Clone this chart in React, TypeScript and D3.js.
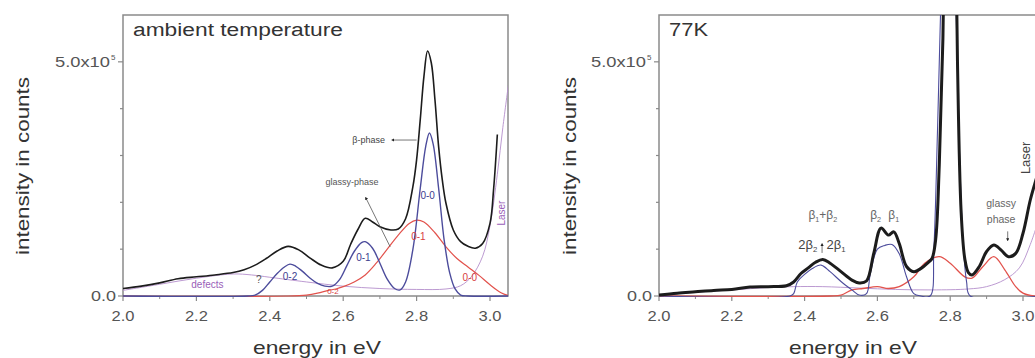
import React from "react";
import * as d3 from "d3";

type Pt = [number, number];

// energies in eV, intensity in units of 1e5 counts
const xTicks = [2.0, 2.2, 2.4, 2.6, 2.8, 3.0];
const xMinorTicks = [2.1, 2.3, 2.5, 2.7, 2.9];
const yTicks = [0, 1, 2, 3, 4, 5];
const yTickLabels: Record<number, string> = { 0: "0.0", 5: "5.0x10" };

// ---------- ambient temperature ----------
const ambientTotal: Pt[] = [
  [2.0, 0.16], [2.05, 0.21], [2.1, 0.28], [2.15, 0.37], [2.2, 0.41], [2.25, 0.45],
  [2.3, 0.5], [2.33, 0.56], [2.36, 0.66], [2.39, 0.8], [2.42, 0.96], [2.45, 1.06],
  [2.48, 0.98], [2.51, 0.81], [2.54, 0.66], [2.57, 0.6], [2.6, 0.74], [2.62, 1.1],
  [2.64, 1.42], [2.66, 1.66], [2.68, 1.58], [2.7, 1.48], [2.73, 1.41], [2.75, 1.43],
  [2.77, 1.65], [2.79, 2.34], [2.8, 2.91], [2.81, 3.77], [2.82, 4.69], [2.83, 5.23],
  [2.84, 4.98], [2.85, 4.19], [2.86, 3.19], [2.87, 2.48], [2.88, 1.98], [2.9, 1.41],
  [2.92, 1.16], [2.94, 1.06], [2.96, 1.02], [2.98, 1.12], [3.0, 1.55], [3.01, 2.3],
  [3.02, 3.45],
];
const ambientBeta: Pt[] = [
  [2.0, 0], [2.34, 0], [2.36, 0.02], [2.38, 0.12], [2.4, 0.3], [2.42, 0.48],
  [2.44, 0.62], [2.455, 0.68], [2.47, 0.64], [2.49, 0.52], [2.51, 0.38], [2.53, 0.27],
  [2.55, 0.21], [2.57, 0.21], [2.59, 0.35], [2.61, 0.65], [2.63, 0.95], [2.65, 1.14],
  [2.66, 1.16], [2.68, 1.02], [2.7, 0.7], [2.72, 0.36], [2.74, 0.16], [2.755, 0.13],
  [2.77, 0.3], [2.79, 1.0], [2.81, 2.3], [2.825, 3.2], [2.835, 3.48], [2.845, 3.25],
  [2.86, 2.3], [2.875, 1.2], [2.89, 0.5], [2.905, 0.15], [2.92, 0.02], [2.94, 0],
  [3.05, 0],
];
const ambientGlassy: Pt[] = [
  [2.0, 0], [2.45, 0], [2.5, 0.02], [2.53, 0.06], [2.56, 0.12], [2.58, 0.15],
  [2.6, 0.2], [2.63, 0.3], [2.66, 0.45], [2.69, 0.7], [2.72, 1.0], [2.75, 1.3],
  [2.78, 1.55], [2.8, 1.62], [2.82, 1.58], [2.85, 1.35], [2.88, 1.05], [2.91, 0.8],
  [2.94, 0.62], [2.97, 0.44], [3.0, 0.24], [3.03, 0.07], [3.05, 0.01],
];
const ambientDefects: Pt[] = [
  [2.0, 0.12], [2.1, 0.25], [2.2, 0.38], [2.3, 0.47], [2.35, 0.45], [2.4, 0.4],
  [2.5, 0.3], [2.6, 0.21], [2.7, 0.16], [2.8, 0.14], [2.88, 0.15], [2.92, 0.22],
  [2.95, 0.42], [2.98, 0.85], [3.0, 1.5], [3.02, 2.6], [3.035, 3.6], [3.05, 4.5],
];

// ---------- 77K ----------
const coldTotal: Pt[] = [
  [2.0, 0.02], [2.05, 0.06], [2.1, 0.09], [2.15, 0.12], [2.2, 0.14], [2.25, 0.19],
  [2.3, 0.2], [2.35, 0.22], [2.37, 0.3], [2.39, 0.48], [2.41, 0.6], [2.43, 0.72],
  [2.45, 0.78], [2.47, 0.7], [2.5, 0.52], [2.53, 0.34], [2.55, 0.28], [2.57, 0.32],
  [2.59, 0.91], [2.61, 1.45], [2.63, 1.3], [2.645, 1.37], [2.66, 1.12], [2.68, 0.63],
  [2.7, 0.52], [2.72, 0.59], [2.74, 0.72], [2.75, 0.8], [2.76, 1.2], [2.77, 2.8],
  [2.78, 5.5], [2.79, 11], [2.8, 14.5], [2.81, 11], [2.82, 5.0], [2.83, 1.8],
  [2.84, 0.8], [2.85, 0.5], [2.86, 0.45], [2.88, 0.63], [2.9, 0.95], [2.92, 1.09],
  [2.94, 0.98], [2.96, 0.84], [2.98, 0.91], [3.0, 1.34], [3.02, 2.05], [3.04, 2.6],
  [3.05, 2.9],
];
const coldBeta: Pt[] = [
  [2.0, 0], [2.36, 0], [2.37, 0.05], [2.38, 0.3], [2.4, 0.46], [2.42, 0.58],
  [2.445, 0.66], [2.47, 0.52], [2.5, 0.31], [2.53, 0.13], [2.55, 0.02], [2.57, 0.05],
  [2.58, 0.45], [2.6, 1.0], [2.62, 1.08], [2.64, 1.1], [2.66, 0.9], [2.68, 0.41],
  [2.7, 0.05], [2.72, 0], [2.745, 0], [2.755, 1.0], [2.765, 3.5], [2.775, 6.5],
  [2.785, 11], [2.795, 14], [2.805, 11], [2.815, 6.5], [2.825, 3.2], [2.835, 1.2],
  [2.845, 0.3], [2.855, 0], [3.05, 0],
];
const coldGlassy: Pt[] = [
  [2.0, 0], [2.47, 0], [2.5, 0.02], [2.53, 0.13], [2.56, 0.16], [2.6, 0.2],
  [2.63, 0.16], [2.66, 0.2], [2.7, 0.41], [2.73, 0.7], [2.77, 0.84], [2.8, 0.7],
  [2.84, 0.41], [2.86, 0.38], [2.89, 0.63], [2.92, 0.84], [2.95, 0.56], [2.98, 0.2],
  [3.0, 0.06], [3.03, 0], [3.05, 0],
];
const coldDefects: Pt[] = [
  [2.0, 0.02], [2.1, 0.08], [2.2, 0.13], [2.3, 0.18], [2.37, 0.2], [2.45, 0.2],
  [2.55, 0.17], [2.65, 0.14], [2.75, 0.13], [2.85, 0.15], [2.9, 0.2], [2.95, 0.35],
  [2.99, 0.6], [3.02, 1.1], [3.05, 1.8],
];

const FONT = "Liberation Sans, Arial, Helvetica, sans-serif";
const C_BLACK = "#1c1c1c";
const C_BLUE = "#4c4c9c";
const C_RED = "#e2524c";
const C_PURPLE = "#b48fcc";
const C_TEXT = "#333";
const C_TICK = "#555";
const C_AXIS = "#8a8a8a";

type Series = { data: Pt[]; color: string; width: number };
type Label = {
  e: number; v: number; text: React.ReactNode; color: string; size: number;
  rotate?: number; anchor?: string; len?: number;
};
type Arrow = { e1: number; v1: number; e2: number; v2: number };

interface PanelProps {
  id: string;
  left: number;
  unit: number; // px per eV
  right: number; // frame right edge px
  top: number;
  bottom: number;
  title: string;
  titleSize: number;
  titleLen: number;
  yTitleX: number;
  xTitleX: number;
  series: Series[];
  labels: Label[];
  arrows: Arrow[];
}

function Panel(p: PanelProps) {
  const x = d3.scaleLinear().domain([2.0, 3.05]).range([p.left, p.left + 1.05 * p.unit]);
  const y = d3.scaleLinear().domain([0, 6]).range([p.bottom, p.top]);
  const line = d3
    .line<Pt>()
    .x((d) => x(d[0]))
    .y((d) => y(d[1]))
    .curve(d3.curveCatmullRom.alpha(0.5));
  const clipId = `clip-${p.id}`;
  return (
    <g>
      <defs>
        <clipPath id={clipId}>
          <rect x={p.left} y={p.top} width={p.right - p.left} height={p.bottom - p.top + 1} />
        </clipPath>
        <marker id={`ah-${p.id}`} viewBox="0 0 10 10" refX="5" refY="5" markerWidth="4" markerHeight="4" orient="auto-start-reverse">
          <path d="M0,0 L10,5 L0,10 z" fill="#222" />
        </marker>
      </defs>
      {/* frame */}
      <path
        d={`M${p.left},${p.bottom} L${p.left},${p.top} L${p.right},${p.top} L${p.right},${p.bottom} Z`}
        fill="none"
        stroke={C_AXIS}
        strokeWidth={1.5}
      />
      {/* x ticks */}
      {xTicks.map((t) => (
        <g key={`xt${t}`}>
          <line x1={x(t)} x2={x(t)} y1={p.bottom} y2={p.bottom + 5} stroke={C_AXIS} strokeWidth={1.2} />
          <text x={x(t)} y={p.bottom + 25} textAnchor="middle" fontSize={14} fill={C_TICK} fontFamily={FONT} textLength={23} lengthAdjust="spacingAndGlyphs">
            {t.toFixed(1)}
          </text>
        </g>
      ))}
      {xMinorTicks.map((t) => (
        <line key={`xm${t}`} x1={x(t)} x2={x(t)} y1={p.bottom} y2={p.bottom + 3} stroke={C_AXIS} strokeWidth={1} />
      ))}
      {/* y ticks */}
      {yTicks.map((t) => (
        <g key={`yt${t}`}>
          <line x1={p.left - (yTickLabels[t] ? 5 : 3)} x2={p.left} y1={y(t)} y2={y(t)} stroke={C_AXIS} strokeWidth={1.2} />
          {yTickLabels[t] && t === 0 && (
            <text x={p.left - 7} y={y(t) + 5} textAnchor="end" fontSize={14} fill={C_TICK} fontFamily={FONT} textLength={25} lengthAdjust="spacingAndGlyphs">
              {yTickLabels[t]}
            </text>
          )}
          {yTickLabels[t] && t === 5 && (
            <g>
              <text x={p.left - 68} y={y(t) + 5} textAnchor="start" fontSize={14} fill={C_TICK} fontFamily={FONT} textLength={55} lengthAdjust="spacingAndGlyphs">
                {yTickLabels[t]}
              </text>
              <text x={p.left - 12} y={y(t) - 2} textAnchor="start" fontSize={8} fill={C_TICK} fontFamily={FONT}>
                5
              </text>
            </g>
          )}
        </g>
      ))}
      {/* curves */}
      <g clipPath={`url(#${clipId})`}>
        {p.series.map((s, i) => (
          <path key={i} d={line(s.data) || ""} fill="none" stroke={s.color} strokeWidth={s.width} strokeLinejoin="round" />
        ))}
      </g>
      {/* arrows */}
      {p.arrows.map((a, i) => (
        <line key={`a${i}`} x1={x(a.e1)} y1={y(a.v1)} x2={x(a.e2)} y2={y(a.v2)} stroke="#555" strokeWidth={0.8} markerEnd={`url(#ah-${p.id})`} />
      ))}
      {/* labels */}
      {p.labels.map((l, i) => (
        <text
          key={`l${i}`}
          x={x(l.e)}
          y={y(l.v)}
          fontSize={l.size}
          fill={l.color}
          fontFamily={FONT}
          textAnchor={(l.anchor as any) || "middle"}
          transform={l.rotate ? `rotate(${l.rotate},${x(l.e)},${y(l.v)})` : undefined}
          textLength={l.len}
          lengthAdjust={l.len ? "spacingAndGlyphs" : undefined}
        >
          {l.text}
        </text>
      ))}
      {/* titles */}
      <text x={p.left + 10} y={p.top + 21} fontSize={p.titleSize} fill={C_TEXT} fontFamily={FONT} textLength={p.titleLen} lengthAdjust="spacingAndGlyphs">
        {p.title}
      </text>
      <text x={p.xTitleX} y={354} textAnchor="middle" fontSize={19} fill={C_TEXT} fontFamily={FONT} textLength={128} lengthAdjust="spacingAndGlyphs">
        energy in eV
      </text>
      <text
        x={p.yTitleX}
        y={166}
        textAnchor="middle"
        fontSize={19}
        fill={C_TEXT}
        fontFamily={FONT}
        transform={`rotate(-90,${p.yTitleX},166)`}
        textLength={178}
        lengthAdjust="spacingAndGlyphs"
      >
        intensity in counts
      </text>
    </g>
  );
}

export default function App() {
  const BL = "#3d3d8f";
  const RL = "#d84040";
  const PL = "#9a60b8";
  return (
    <svg width={1035} height={358} style={{ position: "absolute", left: 0, top: 0, background: "#fff" }}>
      <rect width={1035} height={358} fill="#fff" />
      <Panel
        id="amb"
        left={123}
        unit={367}
        right={508}
        top={15}
        bottom={296}
        title="ambient temperature"
        titleSize={18}
        titleLen={210}
        yTitleX={29}
        xTitleX={317}
        series={[
          { data: ambientDefects, color: C_PURPLE, width: 0.9 },
          { data: ambientGlassy, color: C_RED, width: 1.2 },
          { data: ambientBeta, color: C_BLUE, width: 1.4 },
          { data: ambientTotal, color: C_BLACK, width: 1.6 },
        ]}
        labels={[
          { e: 2.714, v: 3.27, text: "β-phase", color: "#444", size: 9, anchor: "end" },
          { e: 2.624, v: 2.37, text: "glassy-phase", color: "#555", size: 9 },
          { e: 2.83, v: 2.08, text: "0-0", color: BL, size: 10 },
          { e: 2.655, v: 0.75, text: "0-1", color: BL, size: 10 },
          { e: 2.455, v: 0.35, text: "0-2", color: BL, size: 10 },
          { e: 2.805, v: 1.2, text: "0-1", color: RL, size: 10 },
          { e: 2.945, v: 0.32, text: "0-0", color: RL, size: 10 },
          { e: 2.572, v: 0.05, text: "0-2", color: RL, size: 8 },
          { e: 2.23, v: 0.18, text: "defects", color: PL, size: 10 },
          { e: 2.37, v: 0.27, text: "?", color: "#555", size: 10 },
          { e: 3.041, v: 1.77, text: "Laser", color: PL, size: 10, rotate: -90 },
        ]}
        arrows={[
          { e1: 2.80, v1: 3.33, e2: 2.735, v2: 3.33 },
          { e1: 2.728, v1: 1.05, e2: 2.662, v2: 2.09 },
        ]}
      />
      <Panel
        id="cold"
        left={659}
        unit={364}
        right={1040}
        top={15}
        bottom={296}
        title="77K"
        titleSize={19}
        titleLen={39}
        yTitleX={576}
        xTitleX={853}
        series={[
          { data: coldDefects, color: C_PURPLE, width: 0.9 },
          { data: coldGlassy, color: C_RED, width: 1.3 },
          { data: coldBeta, color: C_BLUE, width: 1.1 },
          { data: coldTotal, color: C_BLACK, width: 3 },
        ]}
        labels={[
          { e: 2.45, v: 1.64, text: <>β<tspan fontSize="0.6em" dy={3}>1</tspan><tspan dy={-3}>+β</tspan><tspan fontSize="0.6em" dy={3}>2</tspan></>, color: "#666", size: 12 },
          { e: 2.435, v: 1.01, text: <>2β<tspan fontSize="0.6em" dy={3}>2</tspan></>, color: "#444", size: 13, anchor: "end" },
          { e: 2.46, v: 1.01, text: <>2β<tspan fontSize="0.6em" dy={3}>1</tspan></>, color: "#444", size: 13, anchor: "start" },
          { e: 2.595, v: 1.64, text: <>β<tspan fontSize="0.6em" dy={3}>2</tspan></>, color: "#666", size: 12, anchor: "middle" },
          { e: 2.645, v: 1.64, text: <>β<tspan fontSize="0.6em" dy={3}>1</tspan></>, color: "#666", size: 12, anchor: "middle" },
          { e: 2.94, v: 1.9, text: "glassy", color: "#666", size: 10.5 },
          { e: 2.94, v: 1.56, text: "phase", color: "#666", size: 10.5 },
          { e: 3.02, v: 2.95, text: "Laser", color: "#444", size: 13, rotate: -90 },
        ]}
        arrows={[
          { e1: 2.448, v1: 0.92, e2: 2.448, v2: 1.1 },
          { e1: 2.958, v1: 1.38, e2: 2.958, v2: 1.2 },
        ]}
      />
    </svg>
  );
}
